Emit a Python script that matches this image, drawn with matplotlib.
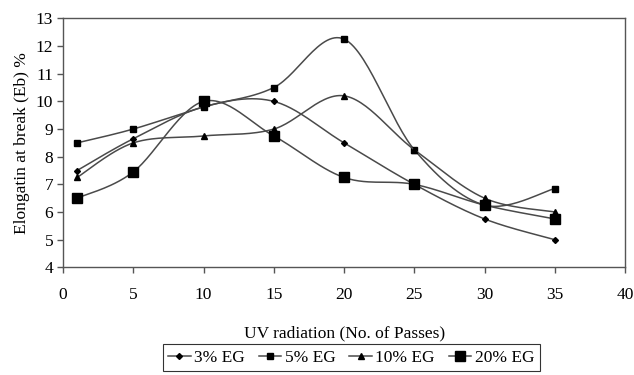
import numpy as np
import matplotlib.pyplot as plt
from matplotlib.lines import Line2D

plt.rcParams['font.family'] = ['Liberation Serif', 'DejaVu Serif']

passes = [1, 5, 10, 15, 20, 25, 30, 35]
eg3 = [7.5, 8.65, 9.8, 10.0, 8.5, 7.0, 5.75, 5.0]
eg5 = [8.5, 9.0, 9.8, 10.5, 12.25, 8.25, 6.25, 6.85]
eg10 = [7.25, 8.5, 8.75, 9.0, 10.2, 8.25, 6.5, 6.0]
eg20 = [6.5, 7.45, 10.0, 8.75, 7.25, 7.0, 6.25, 5.75]
labels = ['3% EG', '5% EG', '10% EG', '20% EG']


def smooth(x, y, n=30):
    # excel-like smoothed line (catmull-rom bezier)
    x = np.asarray(x, float)
    y = np.asarray(y, float)
    px = np.concatenate([[x[0]], x, [x[-1]]])
    py = np.concatenate([[y[0]], y, [y[-1]]])
    xs, ys = [], []
    t = np.linspace(0, 1, n)
    for i in range(1, len(px) - 2):
        p0 = np.array([px[i], py[i]])
        p3 = np.array([px[i + 1], py[i + 1]])
        p1 = p0 + (np.array([px[i + 1], py[i + 1]]) - np.array([px[i - 1], py[i - 1]])) / 6
        p2 = p3 - (np.array([px[i + 2], py[i + 2]]) - np.array([px[i], py[i]])) / 6
        b = ((1 - t) ** 3)[:, None] * p0 + (3 * (1 - t) ** 2 * t)[:, None] * p1 \
            + (3 * (1 - t) * t ** 2)[:, None] * p2 + (t ** 3)[:, None] * p3
        xs.extend(b[:, 0])
        ys.extend(b[:, 1])
    return xs, ys


fig = plt.figure(figsize=(6.34, 3.75), dpi=100)
ax = fig.add_axes([0.0994, 0.287, 0.8866, 0.664])

line_col = '#4a4a4a'
styles = [('D', 3), ('s', 4), ('^', 4.5), ('s', 6.5)]
handles = []
for ys, lab, (m, ms) in zip([eg3, eg5, eg10, eg20], labels, styles):
    sx, sy = smooth(passes, ys)
    ax.plot(sx, sy, color=line_col, lw=1.1)
    ax.plot(passes, ys, ls='none', marker=m, ms=ms, color='black')
    handles.append(Line2D([], [], color=line_col, lw=1.1, marker=m, ms=ms,
                          markerfacecolor='black', markeredgecolor='black'))

ax.set_xlim(0, 40)
ax.set_ylim(4, 13)
ax.set_xticks(range(0, 41, 5))
ax.set_yticks(range(4, 14))
for s in ax.spines.values():
    s.set_color('#555555')
    s.set_linewidth(1.0)
ax.tick_params(direction='out', length=4, width=1, color='#555555',
               labelsize=12.5, pad=10)
ax.tick_params(axis='y', pad=3)
ax.set_xlabel('UV radiation (No. of Passes)', fontsize=12.5, labelpad=16)
ax.set_ylabel('Elongatin at break (Eb) %', fontsize=12.5, labelpad=4)

leg = fig.legend(handles, labels, loc='center', bbox_to_anchor=(0.554, 0.046),
                 ncol=4, fontsize=12.5, frameon=True, fancybox=False,
                 handlelength=1.3, handletextpad=0.2, columnspacing=0.8,
                 borderpad=0.3)
leg.get_frame().set_edgecolor('black')
leg.get_frame().set_linewidth(0.8)

fig.savefig('out.png', dpi=100)
